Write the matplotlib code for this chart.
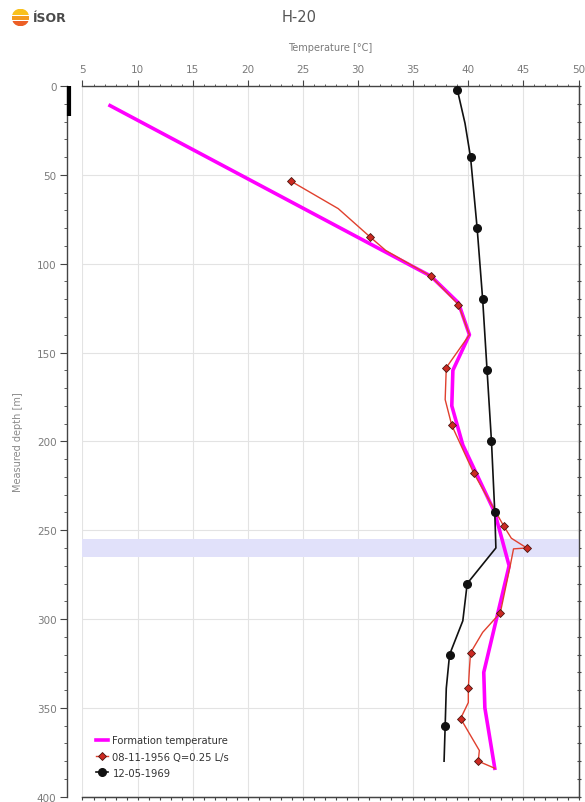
import matplotlib
matplotlib.use('Agg')
import matplotlib.pyplot as plt
import matplotlib.transforms as mtransforms
from matplotlib.lines import Line2D
from matplotlib.patches import Circle, Rectangle
from matplotlib.ticker import MultipleLocator

plt.rcParams['font.family'] = 'DejaVu Sans'

# formation temperature profile
form_temp  = [7.5, 36.6, 39.1, 40.1, 38.6, 38.5, 39.5, 42.4, 43.7, 41.4, 41.5, 42.4]
form_depth = [11, 107, 122, 140, 160, 180, 202, 240, 270, 330, 350, 384]

# 08-11-1956 log (Q=0.25 L/s); measured points flagged in red_marked
red_temp  = [23.9, 28.2, 31.1, 32.5, 36.6, 39.1, 40.1, 38.0, 37.9, 38.5, 40.5, 43.2, 43.9,
             45.3, 44.1, 43.8, 42.9, 41.3, 40.2, 40.1, 40.0, 40.0, 39.3, 41.0, 40.9, 42.4]
red_depth = [53.5, 69, 85, 92.5, 107, 123, 140, 158.5, 176.5, 191, 218, 247.5, 254.5,
             260, 260.5, 270, 296.5, 307.5, 319, 328, 339, 347, 356, 374, 380, 384]
red_marked = [0, 2, 4, 5, 7, 9, 10, 11, 13, 16, 18, 20, 22, 24]

# 12-05-1969 log
blk_temp  = [39.0, 39.7, 40.2, 40.8, 41.3, 41.7, 42.1, 42.4, 42.5, 39.9, 39.5, 38.3, 38.0, 37.9, 37.8]
blk_depth = [2, 21, 40, 80, 120, 160, 200, 240, 260, 280, 301, 320, 339, 360, 380]
blk_marked = [0, 2, 3, 4, 5, 6, 7, 9, 11, 13]

casing_depth = 17
feed_zone = (255, 265)

labels = ['Formation temperature', '08-11-1956 Q=0.25 L/s', '12-05-1969']

fig = plt.figure(figsize=(5.85, 8.03), dpi=100)
ax = fig.add_axes([0.141, 0.0066, 0.848, 0.885])

ax.axhspan(feed_zone[0], feed_zone[1], color='#e1e1fa', zorder=1, lw=0)

ax.plot(form_temp, form_depth, color='#ff00ff', lw=2.6, zorder=3, label=labels[0])
ax.plot(red_temp, red_depth, color='#e0402e', lw=1.0, marker='D', markersize=4,
        markerfacecolor='#cc2a22', markeredgecolor='#4a1510', markeredgewidth=0.6,
        markevery=red_marked, zorder=4, label=labels[1])
ax.plot(blk_temp, blk_depth, color='#111111', lw=1.2, marker='o', markersize=5.5,
        markevery=blk_marked, zorder=5, label=labels[2])

ax.set_xlim(5, 50)
ax.set_ylim(400, 0)

ax.xaxis.set_major_locator(MultipleLocator(5))
ax.xaxis.set_minor_locator(MultipleLocator(1))
ax.yaxis.set_major_locator(MultipleLocator(50))
ax.yaxis.set_minor_locator(MultipleLocator(10))

ax.xaxis.set_label_position('top')
ax.tick_params(axis='x', which='both', top=True, bottom=False, labeltop=True,
               labelbottom=False, direction='out', colors='#444444',
               labelcolor='#7a7a7a', labelsize=7.5, pad=4)
ax.tick_params(axis='x', which='major', length=4.5)
ax.tick_params(axis='x', which='minor', length=1.8)
ax.tick_params(axis='y', which='both', left=True, right=False, direction='out',
               colors='#444444', labelcolor='#7a7a7a', labelsize=7.5, pad=2.5)
ax.tick_params(axis='y', which='major', length=5.3)
ax.tick_params(axis='y', which='minor', length=2.2)

# small ticks on the bottom and right frame
bx = ax.secondary_xaxis('bottom')
bx.xaxis.set_major_locator(MultipleLocator(1))
bx.tick_params(axis='x', which='both', direction='out', length=2, colors='#444444',
               labelbottom=False)
ry = ax.secondary_yaxis('right')
ry.yaxis.set_major_locator(MultipleLocator(10))
ry.tick_params(axis='y', which='both', direction='inout', length=2.5, colors='#444444',
               labelright=False)
for sec in (bx, ry):
    for s in sec.spines.values():
        s.set_color('#444444')

ax.spines['left'].set_position(('outward', 10.9))
for s in ax.spines.values():
    s.set_color('#444444')
    s.set_linewidth(1.0)

ax.grid(True, which='major', color='#e3e3e3', lw=0.8)
ax.set_axisbelow(True)

ax.set_xlabel('Temperature [°C]', fontsize=7, color='#7a7a7a', labelpad=10)
ax.set_ylabel('Measured depth [m]', fontsize=7, color='#8a8a8a', labelpad=10)

# casing drawn on the depth axis
trans = mtransforms.blended_transform_factory(ax.transAxes, ax.transData) + \
    mtransforms.ScaledTranslation(-0.138, 0, fig.dpi_scale_trans)
ax.add_line(Line2D([0, 0], [0, casing_depth], transform=trans, color='black',
                   lw=3, clip_on=False, solid_capstyle='butt', zorder=6))

leg = ax.legend(loc='lower left', bbox_to_anchor=(0.02, 0.021), borderaxespad=0,
                frameon=False, fontsize=7.2, handlelength=1.15, handletextpad=0.45,
                labelspacing=0.62, borderpad=0.4)
for t in leg.get_texts():
    t.set_color('#333333')

fig.text(0.511, 0.978, 'H-20', ha='center', va='center', fontsize=10.5, color='#555555')

# logo
lax = fig.add_axes([0.02, 0.966, 0.03, 0.022])
lax.set_xlim(-1, 1)
lax.set_ylim(-1, 1)
lax.axis('off')
clip = Circle((0, 0), 1, transform=lax.transData)
for y0, h, c in [(0.25, 0.8, '#f9c11c'), (-0.3, 0.5, '#f39a1e'), (-1.0, 0.65, '#ec5f26')]:
    r = Rectangle((-1, y0), 2, h, color=c, lw=0)
    lax.add_patch(r)
    r.set_clip_path(clip)
fig.text(0.057, 0.977, 'ÍSOR', ha='left', va='center', fontsize=9,
         fontweight='bold', color='#4a4a4a')

fig.savefig('out.png', dpi=100)
